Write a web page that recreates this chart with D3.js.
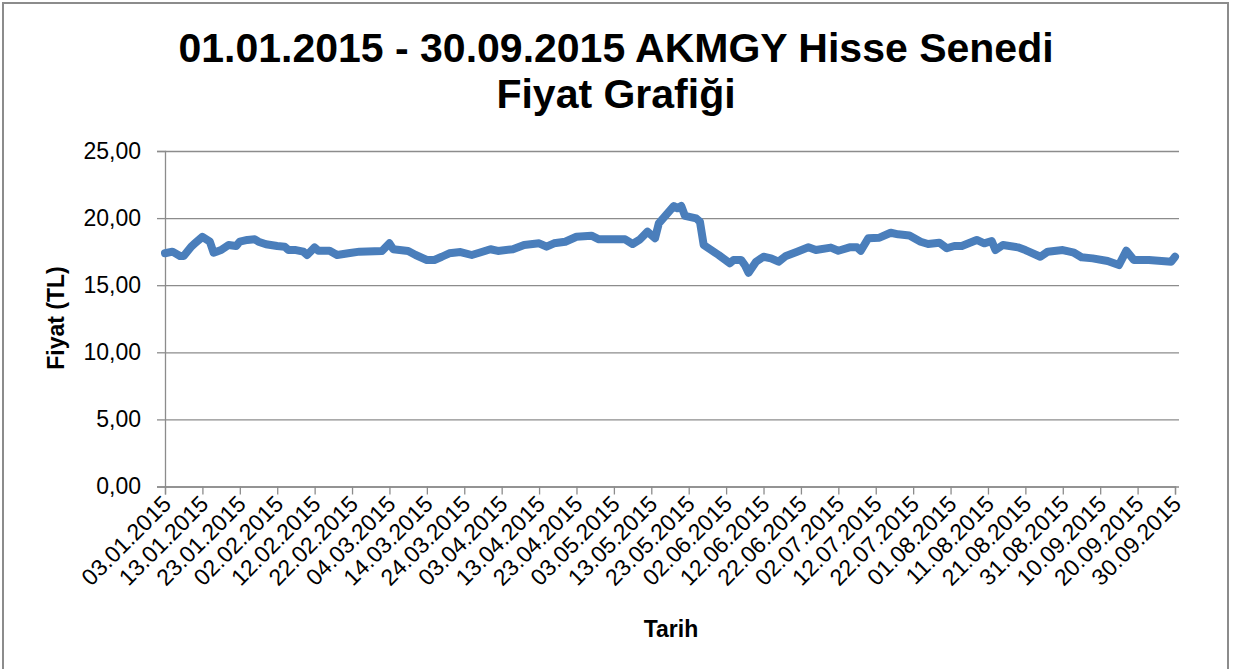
<!DOCTYPE html>
<html>
<head>
<meta charset="utf-8">
<script src="https://cdn.jsdelivr.net/npm/d3@7"></script>
<style>
  body { margin: 0; background: #ffffff; }
  svg { font-family: "Liberation Sans", Arial, sans-serif; }
</style>
</head>
<body>
<div id="line-graph"></div>
<script>
// values
var dates = [
  "03.01.2015","05.01.2015","07.01.2015","08.01.2015","10.01.2015","11.01.2015","13.01.2015","15.01.2015",
  "16.01.2015","18.01.2015","20.01.2015","22.01.2015","23.01.2015","25.01.2015","27.01.2015","28.01.2015",
  "30.01.2015","02.02.2015","04.02.2015","05.02.2015","07.02.2015","09.02.2015","10.02.2015","12.02.2015",
  "13.02.2015","16.02.2015","18.02.2015","21.02.2015","24.02.2015","02.03.2015","04.03.2015","05.03.2015",
  "09.03.2015","11.03.2015","14.03.2015","16.03.2015","18.03.2015","20.03.2015","23.03.2015","26.03.2015",
  "28.03.2015","31.03.2015","02.04.2015","06.04.2015","09.04.2015","13.04.2015","15.04.2015","17.04.2015",
  "20.04.2015","23.04.2015","27.04.2015","29.04.2015","03.05.2015","06.05.2015","08.05.2015","10.05.2015",
  "12.05.2015","14.05.2015","15.05.2015","19.05.2015","20.05.2015","21.05.2015","22.05.2015","25.05.2015",
  "26.05.2015","27.05.2015","29.05.2015","31.05.2015","03.06.2015","04.06.2015","06.06.2015","07.06.2015",
  "08.06.2015","10.06.2015","12.06.2015","14.06.2015","16.06.2015","18.06.2015","21.06.2015","24.06.2015",
  "26.06.2015","30.06.2015","02.07.2015","05.07.2015","07.07.2015","08.07.2015","10.07.2015","13.07.2015",
  "16.07.2015","18.07.2015","21.07.2015","24.07.2015","26.07.2015","29.07.2015","31.07.2015","02.08.2015",
  "04.08.2015","08.08.2015","10.08.2015","12.08.2015","13.08.2015","15.08.2015","19.08.2015","21.08.2015",
  "25.08.2015","27.08.2015","31.08.2015","03.09.2015","05.09.2015","08.09.2015","12.09.2015","15.09.2015",
  "17.09.2015","19.09.2015","23.09.2015","29.09.2015","30.09.2015"
];
var prices = [
  17.38,17.50,17.18,17.18,17.87,18.12,18.60,18.24,
  17.42,17.62,18.00,17.92,18.24,18.37,18.42,18.24,
  18.05,17.92,17.87,17.62,17.62,17.50,17.25,17.82,
  17.57,17.57,17.25,17.38,17.50,17.55,18.12,17.68,
  17.55,17.25,16.88,16.88,17.12,17.38,17.47,17.25,
  17.42,17.68,17.55,17.68,18.00,18.12,17.87,18.12,
  18.24,18.61,18.69,18.42,18.42,18.42,18.07,18.42,
  18.99,18.50,19.60,20.90,20.73,20.90,20.16,19.98,
  19.73,18.00,17.62,17.25,16.63,16.88,16.88,16.50,
  15.93,16.75,17.12,17.00,16.75,17.18,17.50,17.82,
  17.62,17.80,17.57,17.82,17.82,17.57,18.50,18.54,
  18.91,18.79,18.70,18.24,18.07,18.17,17.75,17.92,
  17.92,18.37,18.12,18.29,17.62,18.00,17.82,17.62,
  17.12,17.50,17.62,17.42,17.08,17.00,16.80,16.50,
  17.57,16.88,16.88,16.75,17.12
];
var xTickLabels = [
  "03.01.2015","13.01.2015","23.01.2015","02.02.2015","12.02.2015","22.02.2015","04.03.2015",
  "14.03.2015","24.03.2015","03.04.2015","13.04.2015","23.04.2015","03.05.2015","13.05.2015",
  "23.05.2015","02.06.2015","12.06.2015","22.06.2015","02.07.2015","12.07.2015","22.07.2015",
  "01.08.2015","11.08.2015","21.08.2015","31.08.2015","10.09.2015","20.09.2015","30.09.2015"
];
var yTicks = [0, 5, 10, 15, 20, 25];

var parseDate = d3.timeParse("%d.%m.%Y");
var content = dates.map(function(d, i){ return {date: parseDate(d), price: prices[i]}; });

var width = 1237, height = 669;
var margin = {top: 151, right: 60, bottom: 182.5, left: 165},
    plotWidth = 1175 - margin.left,
    plotHeight = height - margin.top - margin.bottom;

var graph = d3.select("#line-graph")
              .append("svg")
                .attr("width", width)
                .attr("height", height);

// outer chart border
graph.append("rect")
  .attr("x", 3).attr("y", 3)
  .attr("width", 1225).attr("height", 700)
  .attr("fill", "none")
  .attr("stroke", "#8c8c8c")
  .attr("stroke-width", 2);

var svg = graph.append("g")
               .attr("transform", "translate(" + margin.left + "," + margin.top + ")");

var x = d3.scaleTime()
    .domain([parseDate(xTickLabels[0]), parseDate(xTickLabels[xTickLabels.length - 1])])
    .range([0, plotWidth]);

var y = d3.scaleLinear()
    .domain([0, 25])
    .range([plotHeight, 0]);

var fmt = function(d){ return d3.format(".2f")(d).replace(".", ","); };

// Y axis with gridlines
var yAxis = svg.append("g")
    .attr("class", "y-axis")
    .call(d3.axisLeft(y).tickValues(yTicks).tickFormat(fmt).tickSize(8).tickPadding(16));
yAxis.selectAll(".tick line").clone()
    .attr("x1", 0).attr("x2", plotWidth + 4);
yAxis.selectAll("line").attr("stroke", "#8c8c8c").attr("stroke-width", 1.3);
yAxis.select(".domain").attr("stroke", "#8c8c8c").attr("stroke-width", 1.3);
yAxis.selectAll("text")
    .attr("font-size", "23px")
    .attr("fill", "#000");

// X axis
var xAxis = svg.append("g")
    .attr("transform", "translate(0," + plotHeight + ")")
    .call(d3.axisBottom(x)
            .tickValues(xTickLabels.map(parseDate))
            .tickFormat(d3.timeFormat("%d.%m.%Y"))
            .tickSizeOuter(0)
            .tickSize(8));
xAxis.selectAll("line").attr("stroke", "#8c8c8c").attr("stroke-width", 1.3);
xAxis.select(".domain").attr("stroke", "#8c8c8c").attr("stroke-width", 1.3);
xAxis.selectAll("text")
    .attr("y", 0).attr("dy", 0)
    .attr("transform", "translate(7,19)rotate(-45)")
    .style("text-anchor", "end")
    .attr("font-size", "23px")
    .attr("fill", "#000");

// price line
var line = d3.line()
    .x(function(d){ return x(d.date); })
    .y(function(d){ return y(d.price); });

svg.append("path")
    .datum(content)
    .attr("fill", "none")
    .attr("stroke", "#4a7ebb")
    .attr("stroke-width", 8)
    .attr("stroke-linejoin", "round")
    .attr("stroke-linecap", "round")
    .attr("d", line);

// title
graph.append("text")
    .attr("x", 616).attr("y", 62)
    .attr("text-anchor", "middle")
    .attr("font-size", "41px")
    .attr("font-weight", "bold")
    .text("01.01.2015  - 30.09.2015 AKMGY Hisse Senedi");
graph.append("text")
    .attr("x", 616).attr("y", 108)
    .attr("text-anchor", "middle")
    .attr("font-size", "41px")
    .attr("font-weight", "bold")
    .text("Fiyat Grafiği");

// axis titles
graph.append("text")
    .attr("transform", "translate(64,318)rotate(-90)")
    .attr("text-anchor", "middle")
    .attr("font-size", "23px")
    .attr("font-weight", "bold")
    .text("Fiyat (TL)");
graph.append("text")
    .attr("x", 671).attr("y", 637)
    .attr("text-anchor", "middle")
    .attr("font-size", "23px")
    .attr("font-weight", "bold")
    .text("Tarih");
</script>
</body>
</html>
